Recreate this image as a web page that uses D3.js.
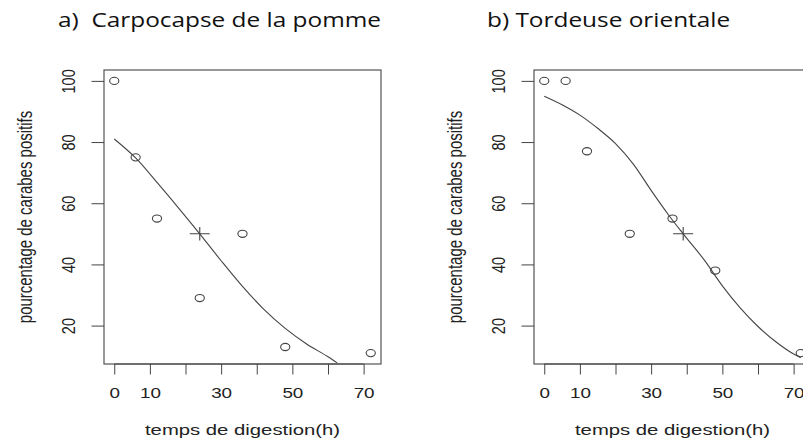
<!DOCTYPE html>
<html>
<head>
<meta charset="utf-8">
<script src="https://cdn.jsdelivr.net/npm/d3@7"></script>
<style>
  body { margin: 0; background: #fff; }
  svg { display: block; }
</style>
</head>
<body>
<div id="graph"></div>
<script>
// observed points (hours, % positive)
var timesA = [0, 6, 12, 24, 36, 48, 72];
var pctA = [100, 75, 55, 29, 50, 13, 11];
var timesB = [0, 6, 12, 24, 36, 48, 72];
var pctB = [100, 100, 77, 50, 55, 38, 11];

// LT50 crosses
var lt50A = [24, 50];
var lt50B = [39, 50];

// fitted curves
var curveTimeA = [0, 6, 12, 18, 24, 30, 36, 42, 48, 54, 60, 62.6];
var curvePctA = [81, 74.8, 66.8, 58.5, 50, 41.2, 32.8, 25.3, 19.1, 14, 9.8, 7.8];
var curveTimeB = [0, 5, 10, 15, 20, 25, 30, 35, 39, 45, 50, 55, 60, 65, 70, 72];
var curvePctB = [95, 92.2, 88.8, 84.5, 79.5, 72.8, 64.2, 56, 50, 41.3, 33, 25.8, 19.7, 14.7, 10.7, 9.5];

var xTicks = [0, 10, 20, 30, 40, 50, 60, 70];
var xTickLabels = [0, 10, 30, 50, 70];
var yTicks = [20, 40, 60, 80, 100];

var titles = ["a)  Carpocapse de la pomme", "b) Tordeuse orientale"];
var xLabel = "temps de digestion(h)";
var yLabel = "pourcentage de carabes positifs";

var width = 803, height = 439;
var boxTop = 70, boxBottom = 364, boxWidth = 277;
var sx = 1.3; // the original picture is stretched sideways
var ink = "#222", lineCol = "#444";
var rFont = "'Liberation Sans', Arial, sans-serif";

var svg = d3.select("#graph").append("svg")
    .attr("width", width)
    .attr("height", height);

function panel(opts) {
    var left = opts.left;
    var x = d3.scaleLinear().domain([-2.88, 74.88]).range([left, left + boxWidth]);
    var y = d3.scaleLinear().domain([7.44, 103.56]).range([boxBottom, boxTop]);
    var g = svg.append("g");

    // title
    svg.append("text")
        .attr("transform", "translate(" + opts.titleX + ",27) scale(1.19,1)")
        .style("white-space", "pre")
        .attr("font-family", "'Open Sans', sans-serif")
        .attr("font-size", "20.5px")
        .attr("fill", "#111")
        .text(opts.title);

    // x axis
    var xa = g.append("g")
        .attr("transform", "translate(0," + boxBottom + ")")
        .call(d3.axisBottom(x).tickValues(xTicks).tickSize(10.5).tickSizeOuter(0)
            .tickFormat(function (d) { return xTickLabels.indexOf(d) >= 0 ? d : ""; }));
    xa.select(".domain").attr("d", "M" + x(0) + ",0H" + x(70)).attr("stroke", lineCol);
    xa.selectAll(".tick line").attr("stroke", lineCol);
    xa.selectAll(".tick text")
        .attr("y", null).attr("dy", "0.35em")
        .attr("transform", "translate(0,29) scale(" + sx + ",1)")
        .attr("font-family", rFont)
        .attr("font-size", "14.5px")
        .attr("fill", ink);

    // y axis
    var ya = g.append("g")
        .attr("transform", "translate(" + left + ",0)")
        .call(d3.axisLeft(y).tickValues(yTicks).tickSize(12.5).tickSizeOuter(0));
    ya.select(".domain").attr("stroke", "none");
    ya.selectAll(".tick line").attr("stroke", lineCol);
    ya.selectAll(".tick text")
        .attr("x", null).attr("dy", "0.35em")
        .attr("text-anchor", "middle")
        .attr("transform", "translate(-36,0) scale(" + sx + ",1) rotate(-90)")
        .attr("font-family", rFont)
        .attr("font-size", "14.5px")
        .attr("fill", ink);

    // box
    g.append("rect")
        .attr("x", left).attr("y", boxTop)
        .attr("width", boxWidth).attr("height", boxBottom - boxTop)
        .attr("fill", "none").attr("stroke", lineCol).attr("stroke-width", 1.1);

    // axis titles
    g.append("text")
        .attr("transform", "translate(" + (left + boxWidth / 2) + ",430) scale(1.4,1)")
        .attr("dy", "0.35em")
        .attr("text-anchor", "middle")
        .attr("font-family", rFont)
        .attr("font-size", "14.5px")
        .attr("fill", ink)
        .text(xLabel);
    g.append("text")
        .attr("transform", "translate(" + (left - 79) + "," + ((boxTop + boxBottom) / 2) + ") scale(" + sx + ",1) rotate(-90)")
        .attr("dy", "0.35em")
        .attr("text-anchor", "middle")
        .attr("font-family", rFont)
        .attr("font-size", "15px")
        .attr("fill", ink)
        .text(yLabel);

    // fitted curve
    var line = d3.line()
        .curve(d3.curveMonotoneX)
        .x(function (d) { return x(d[0]); })
        .y(function (d) { return y(d[1]); });
    g.append("path")
        .datum(d3.zip(opts.curveTime, opts.curvePct))
        .attr("d", line)
        .attr("fill", "none")
        .attr("stroke", lineCol)
        .attr("stroke-width", 1.1);

    // observed points (open circles, stretched like the picture)
    g.selectAll("ellipse.pt")
        .data(d3.zip(opts.times, opts.pct))
        .enter().append("ellipse")
        .attr("class", "pt")
        .attr("cx", function (d) { return x(d[0]); })
        .attr("cy", function (d) { return y(d[1]); })
        .attr("rx", 4.6).attr("ry", 3.6)
        .attr("fill", "none")
        .attr("stroke", lineCol)
        .attr("stroke-width", 1.1);

    // LT50 cross
    var cx = x(opts.lt50[0]), cy = y(opts.lt50[1]);
    g.append("path")
        .attr("d", "M" + (cx - 10) + "," + cy + "H" + (cx + 10) + "M" + cx + "," + (cy - 6.7) + "V" + (cy + 6.7))
        .attr("stroke", lineCol)
        .attr("stroke-width", 1.1);
}

panel({ left: 104, titleX: 58, title: titles[0], times: timesA, pct: pctA,
        lt50: lt50A, curveTime: curveTimeA, curvePct: curvePctA });
panel({ left: 534, titleX: 487, title: titles[1], times: timesB, pct: pctB,
        lt50: lt50B, curveTime: curveTimeB, curvePct: curvePctB });
</script>
</body>
</html>
